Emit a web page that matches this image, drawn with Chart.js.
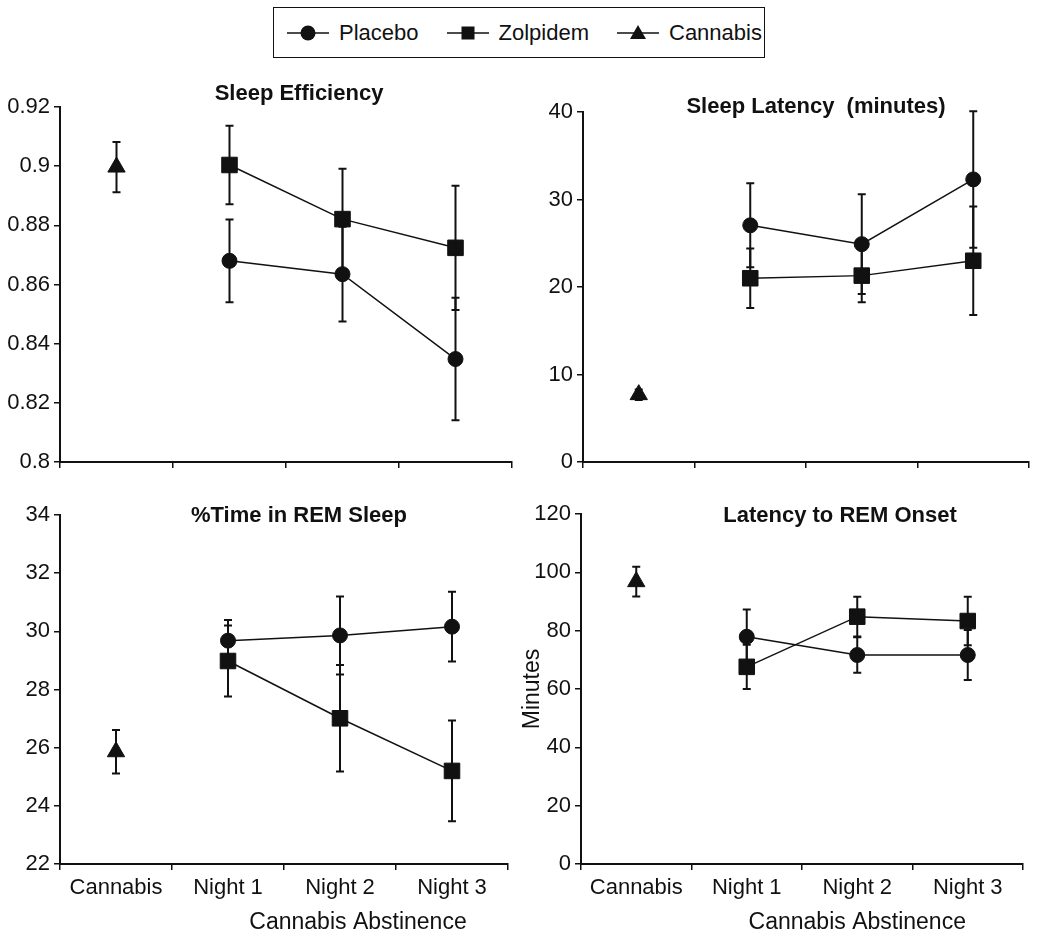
<!DOCTYPE html>
<html>
<head>
<meta charset="utf-8">
<title>Sleep measures: cannabis use and abstinence</title>
<script src="https://cdn.jsdelivr.net/npm/chart.js@4.4.1/dist/chart.umd.min.js"></script>
<style>
  body { margin: 0; background: #fff; font-family: "Liberation Sans", Arial, sans-serif; color: #111; }
  #page { position: relative; width: 1050px; height: 943px; }
  .panel { position: absolute; }
  #legend {
    position: absolute; left: 273px; top: 7px; width: 492px; height: 51px;
    box-sizing: border-box; border: 1.5px solid #111;
    display: flex; align-items: center; padding-left: 13px; font-size: 22px;
  }
  .item { display: flex; align-items: center; margin-right: 28px; }
  .item svg { margin-right: 10px; }
</style>
</head>
<body>
<div id="page">
  <div id="legend"></div>
  <div class="panel" style="left:0;top:60px"><canvas id="eff" width="525" height="430"></canvas></div>
  <div class="panel" style="left:525px;top:60px"><canvas id="lat" width="525" height="430"></canvas></div>
  <div class="panel" style="left:0;top:490px"><canvas id="rem" width="525" height="453"></canvas></div>
  <div class="panel" style="left:519px;top:490px"><canvas id="ons" width="531" height="453"></canvas></div>
</div>
<script>
const categories = ['Cannabis', 'Night 1', 'Night 2', 'Night 3'];
const seriesNames = ['Placebo', 'Zolpidem', 'Cannabis'];

// sleep efficiency
const effPlacebo = [null, 0.868, 0.8635, 0.8348];
const effPlaceboErr = [null, 0.014, 0.016, 0.0207];
const effZolpidem = [null, 0.9004, 0.8821, 0.8724];
const effZolpidemErr = [null, 0.0133, 0.017, 0.021];
const effCannabis = [0.8997, null, null, null];
const effCannabisErr = [0.0085, null, null, null];
const effAxis = [0.8, 0.92, 0.02];

// sleep latency (minutes)
const latPlacebo = [null, 27.05, 24.9, 32.3];
const latPlaceboErr = [null, 4.8, 5.7, 7.8];
const latZolpidem = [null, 21.0, 21.3, 23.0];
const latZolpidemErr = [null, 3.4, 3.05, 6.2];
const latCannabis = [7.7, null, null, null];
const latCannabisErr = [0.6, null, null, null];
const latAxis = [0, 40, 10];

// % time in REM sleep
const remPlacebo = [null, 29.68, 29.86, 30.16];
const remPlaceboErr = [null, 0.71, 1.34, 1.2];
const remZolpidem = [null, 28.98, 27.01, 25.2];
const remZolpidemErr = [null, 1.22, 1.83, 1.73];
const remCannabis = [25.86, null, null, null];
const remCannabisErr = [0.75, null, null, null];
const remAxis = [22, 34, 2];

// latency to REM onset
const onsPlacebo = [null, 77.9, 71.65, 71.65];
const onsPlaceboErr = [null, 9.4, 6.1, 8.6];
const onsZolpidem = [null, 67.6, 84.8, 83.3];
const onsZolpidemErr = [null, 7.6, 6.8, 8.3];
const onsCannabis = [96.8, null, null, null];
const onsCannabisErr = [5.1, null, null, null];
const onsAxis = [0, 120, 20];

const ink = '#111';
const fontFamily = '"Liberation Sans", Arial, sans-serif';
Chart.defaults.font.family = fontFamily;
Chart.defaults.color = ink;

// legend (line + marker like the original figure)
const markers = ['circle', 'rect', 'triangle'];
function markerSvg(kind) {
  let shape;
  if (kind === 'circle') shape = '<circle cx="21" cy="11" r="7.5" fill="#111"/>';
  else if (kind === 'rect') shape = '<rect x="14.5" y="4.5" width="13" height="13" fill="#111"/>';
  else shape = '<polygon points="21,3 29,17 13,17" fill="#111"/>';
  return '<svg width="42" height="22"><line x1="0" y1="11" x2="42" y2="11" stroke="#111" stroke-width="1.5"/>' + shape + '</svg>';
}
const legend = document.getElementById('legend');
seriesNames.forEach((name, i) => {
  const el = document.createElement('div');
  el.className = 'item';
  el.innerHTML = markerSvg(markers[i]) + '<span>' + name + '</span>';
  legend.appendChild(el);
});

const errorBars = {
  id: 'errorBars',
  beforeDatasetsDraw(chart) {
    const {ctx, scales: {x, y}} = chart;
    ctx.save();
    ctx.strokeStyle = ink;
    ctx.lineWidth = 2;
    chart.data.datasets.forEach(ds => {
      (ds.errors || []).forEach((e, i) => {
        const v = ds.data[i];
        if (v == null || e == null) return;
        const px = x.getPixelForValue(i);
        const top = y.getPixelForValue(v + e);
        const bot = y.getPixelForValue(v - e);
        ctx.beginPath();
        ctx.moveTo(px, top); ctx.lineTo(px, bot);
        ctx.moveTo(px - 4, top); ctx.lineTo(px + 4, top);
        ctx.moveTo(px - 4, bot); ctx.lineTo(px + 4, bot);
        ctx.stroke();
      });
    });
    ctx.restore();
  }
};

// panel title inside the plot, and the "Cannabis Abstinence" caption under nights 1-3
const panelText = {
  id: 'panelText',
  afterDraw(chart, args, opts) {
    const {ctx, chartArea} = chart;
    ctx.save();
    ctx.fillStyle = ink;
    ctx.textAlign = 'center';
    ctx.textBaseline = 'middle';
    ctx.font = 'bold 22px ' + fontFamily;
    ctx.fillText(opts.title, (chartArea.left + chartArea.right) / 2 + opts.dx, chartArea.top + opts.dy);
    if (opts.caption) {
      const x = chart.scales.x;
      ctx.font = '23px ' + fontFamily;
      ctx.fillText(opts.caption, (x.getPixelForValue(1) + x.getPixelForValue(3)) / 2 + opts.captionDx,
        chartArea.bottom + 59);
    }
    ctx.restore();
  }
};

function makePanel(id, title, placebo, placeboErr, zolpidem, zolpidemErr, cannabis, cannabisErr, axis, opt) {
  new Chart(document.getElementById(id), {
    type: 'line',
    data: {
      labels: categories,
      datasets: [
        { label: seriesNames[0], data: placebo, errors: placeboErr, pointStyle: 'circle', pointRadius: 7.5,
          borderColor: ink, backgroundColor: ink, borderWidth: 1.5, pointBorderWidth: 1 },
        { label: seriesNames[1], data: zolpidem, errors: zolpidemErr, pointStyle: 'rect', pointRadius: 11,
          borderColor: ink, backgroundColor: ink, borderWidth: 1.5, pointBorderWidth: 1 },
        { label: seriesNames[2], data: cannabis, errors: cannabisErr, pointStyle: 'triangle', pointRadius: 10,
          borderColor: ink, backgroundColor: ink, showLine: false, pointBorderWidth: 1 }
      ]
    },
    options: {
      responsive: false,
      animation: false,
      clip: false,
      layout: { padding: { left: 0, top: opt.top, right: opt.right, bottom: 0 } },
      scales: {
        x: {
          offset: true,
          afterFit: s => { s.height = opt.xH; },
          border: { color: ink, width: 2 },
          grid: { offset: true, drawOnChartArea: false, color: ink, lineWidth: 1.5, tickLength: 6 },
          ticks: { display: opt.showX, font: { size: 22 }, padding: 5, color: ink }
        },
        y: {
          min: axis[0], max: axis[1],
          afterFit: s => { s.width = opt.yW; },
          border: { color: ink, width: 2 },
          grid: { drawOnChartArea: false, color: ink, lineWidth: 1.5, tickLength: 6 },
          ticks: { stepSize: axis[2], font: { size: 22 }, padding: 4, color: ink,
                   callback: v => String(Math.round(v * 100) / 100) },
          title: { display: !!opt.yTitle, text: opt.yTitle, font: { size: 23 }, padding: 0, color: ink }
        }
      },
      plugins: {
        legend: { display: false },
        tooltip: { enabled: false },
        panelText: { title: title, dx: opt.dx, dy: opt.dy, captionDx: opt.captionDx || 0,
                     caption: opt.showX ? 'Cannabis Abstinence' : '' }
      }
    },
    plugins: [errorBars, panelText]
  });
}

makePanel('eff', 'Sleep Efficiency', effPlacebo, effPlaceboErr, effZolpidem, effZolpidemErr,
  effCannabis, effCannabisErr, effAxis, { top: 47, right: 13, xH: 28, yW: 60, showX: false, dx: 13, dy: -13 });
makePanel('lat', 'Sleep Latency  (minutes)', latPlacebo, latPlaceboErr, latZolpidem, latZolpidemErr,
  latCannabis, latCannabisErr, latAxis, { top: 52, right: 21, xH: 28, yW: 58, showX: false, dx: 10, dy: -5 });
makePanel('rem', '%Time in REM Sleep', remPlacebo, remPlaceboErr, remZolpidem, remZolpidemErr,
  remCannabis, remCannabisErr, remAxis, { top: 25, right: 17, xH: 79, yW: 60, showX: true, dx: 15, dy: 1, captionDx: 18 });
makePanel('ons', 'Latency to REM Onset', onsPlacebo, onsPlaceboErr, onsZolpidem, onsZolpidemErr,
  onsCannabis, onsCannabisErr, onsAxis, { top: 24, right: 27, xH: 79, yW: 62, showX: true, dx: 38, dy: 2, yTitle: 'Minutes' });
</script>
</body>
</html>
